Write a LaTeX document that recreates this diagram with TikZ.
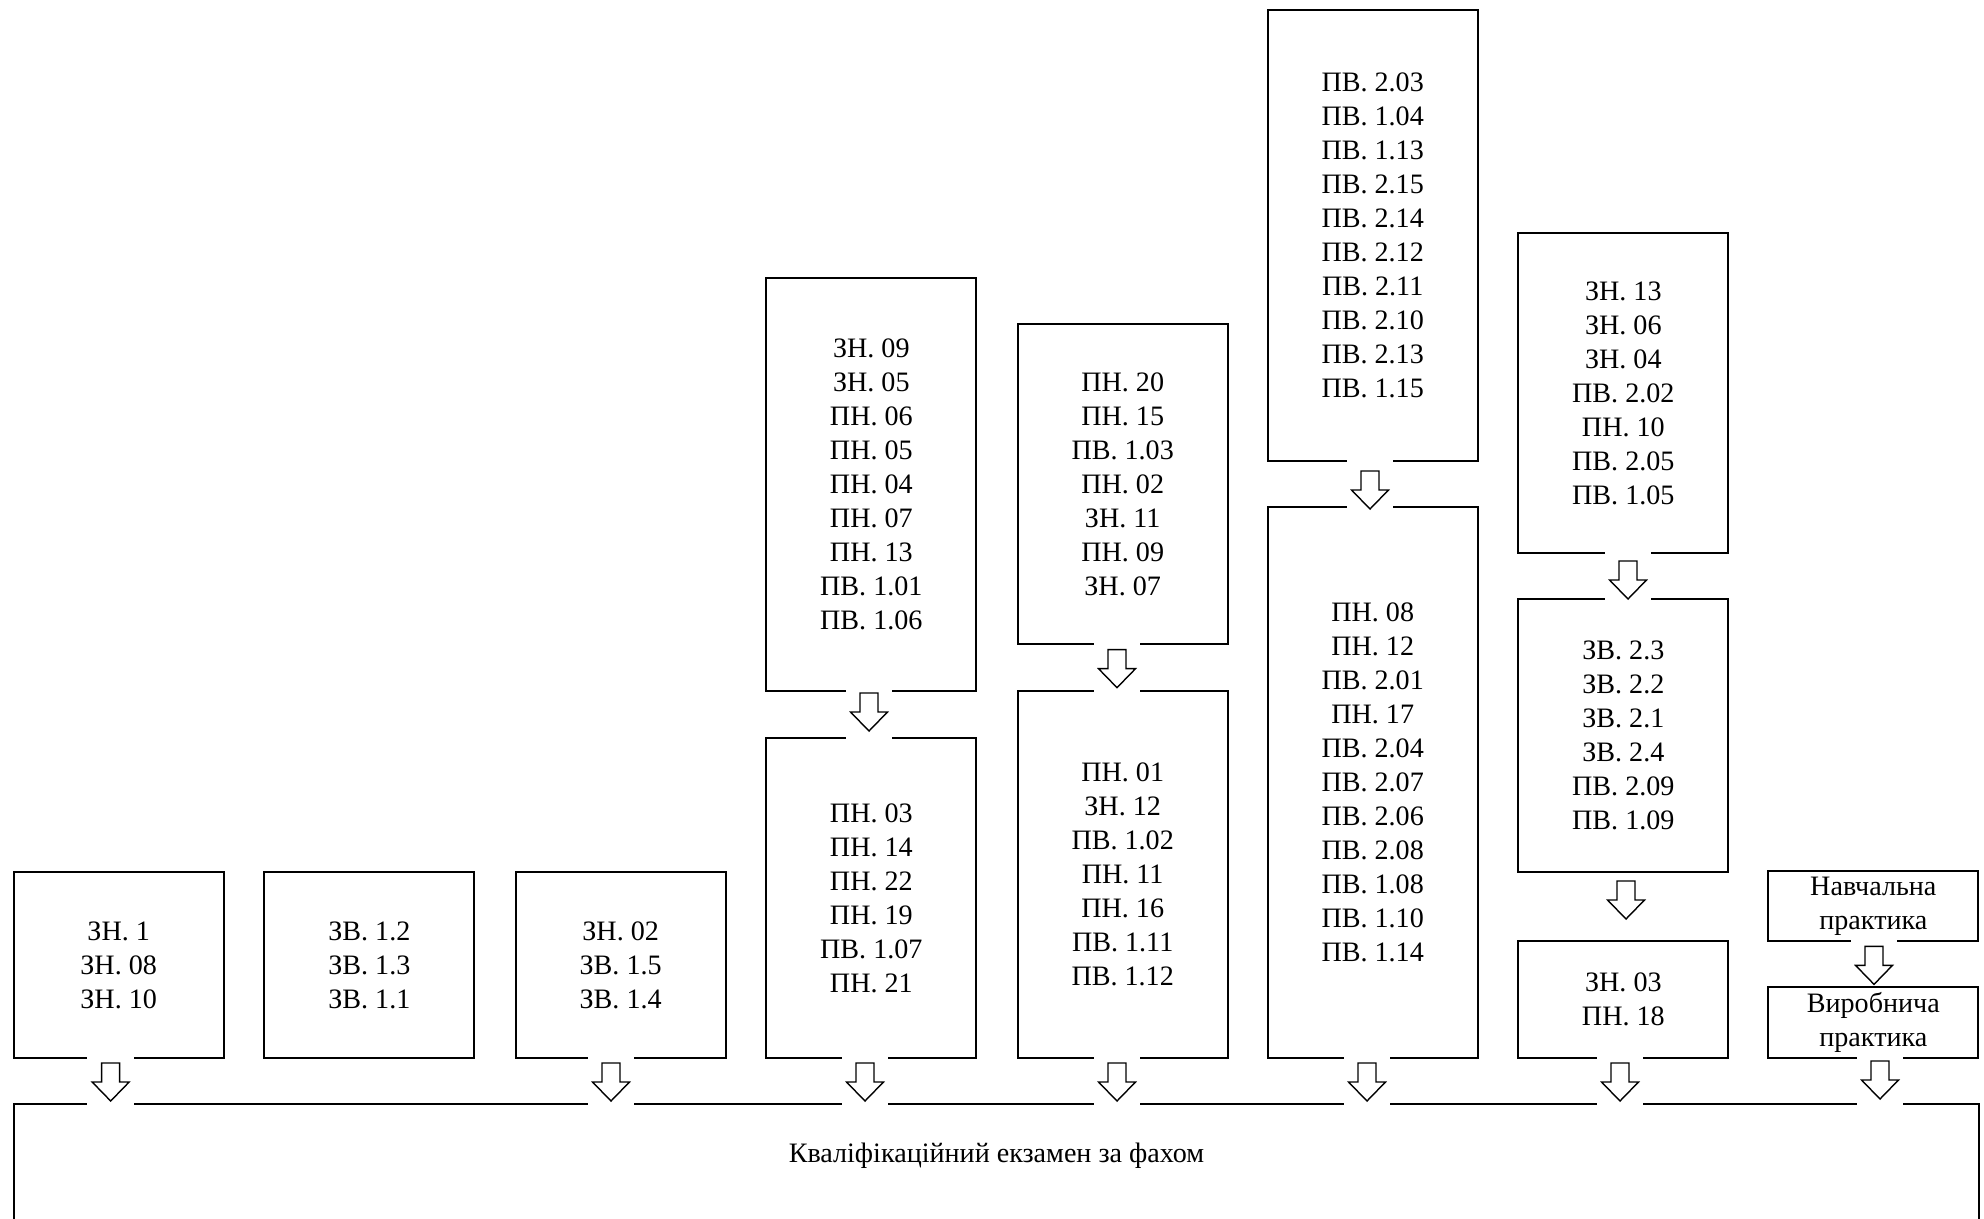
\documentclass[tikz,border=0pt]{standalone}
\usepackage{fontspec}
\setmainfont{Liberation Serif}
\pgfdeclarelayer{front}
\pgfsetlayers{main,front}

\begin{document}
\begin{tikzpicture}[
    box/.style={rectangle, draw, thick, minimum width=3.15cm, text centered, align=center, font=\fontsize{12}{14.5}\selectfont},
    gap/.style={rectangle, fill=white, inner sep=0pt, minimum width=0.7cm, minimum height=0.12cm},
    flow/.style={rectangle, inner sep=0pt, minimum width=0.6cm, minimum height=0.62cm,
        path picture={\draw[semithick, fill=white] (path picture bounding box.center)
            ++(-0.135,0.285) -- ++(0,-0.285) -- ++(-0.1425,0) -- ++(0.2775,-0.285)
            -- ++(0.2775,0.285) -- ++(-0.1425,0) -- ++(0,0.285) -- cycle;}}
]
    \clip[use as bounding box] (0,0) rectangle (29.76,-18.27);

    % short columns
    \node[box, minimum height=2.79cm] (c1) at (1.78,-14.48) {ЗН. 1\\ЗН. 08\\ЗН. 10};
    \node[box, minimum height=2.79cm] (c2) at (5.54,-14.48) {ЗВ. 1.2\\ЗВ. 1.3\\ЗВ. 1.1};
    \node[box, minimum height=2.79cm] (c3) at (9.31,-14.48) {ЗН. 02\\ЗВ. 1.5\\ЗВ. 1.4};

    % two-box columns
    \node[box, minimum height=6.195cm] (c4a) at (13.07,-7.27) {ЗН. 09\\ЗН. 05\\ПН. 06\\ПН. 05\\ПН. 04\\ПН. 07\\ПН. 13\\ПВ. 1.01\\ПВ. 1.06};
    \node[box, minimum height=4.8cm] (c4b) at (13.07,-13.47) {ПН. 03\\ПН. 14\\ПН. 22\\ПН. 19\\ПВ. 1.07\\ПН. 21};
    \node[box, minimum height=4.8cm] (c5a) at (16.84,-7.26) {ПН. 20\\ПН. 15\\ПВ. 1.03\\ПН. 02\\ЗН. 11\\ПН. 09\\ЗН. 07};
    \node[box, minimum height=5.505cm] (c5b) at (16.84,-13.12) {ПН. 01\\ЗН. 12\\ПВ. 1.02\\ПН. 11\\ПН. 16\\ПВ. 1.11\\ПВ. 1.12};
    \node[box, minimum height=6.765cm] (c6a) at (20.59,-3.53) {ПВ. 2.03\\ПВ. 1.04\\ПВ. 1.13\\ПВ. 2.15\\ПВ. 2.14\\ПВ. 2.12\\ПВ. 2.11\\ПВ. 2.10\\ПВ. 2.13\\ПВ. 1.15};
    \node[box, minimum height=8.265cm] (c6b) at (20.59,-11.74) {ПН. 08\\ПН. 12\\ПВ. 2.01\\ПН. 17\\ПВ. 2.04\\ПВ. 2.07\\ПВ. 2.06\\ПВ. 2.08\\ПВ. 1.08\\ПВ. 1.10\\ПВ. 1.14};

    % three-box column
    \node[box, minimum height=4.8cm] (c7a) at (24.35,-5.9) {ЗН. 13\\ЗН. 06\\ЗН. 04\\ПВ. 2.02\\ПН. 10\\ПВ. 2.05\\ПВ. 1.05};
    \node[box, minimum height=4.095cm] (c7b) at (24.35,-11.03) {ЗВ. 2.3\\ЗВ. 2.2\\ЗВ. 2.1\\ЗВ. 2.4\\ПВ. 2.09\\ПВ. 1.09};
    \node[box, minimum height=1.755cm] (c7c) at (24.35,-14.99) {ЗН. 03\\ПН. 18};

    % practice
    \node[box, minimum height=1.05cm, inner sep=0pt] (c8a) at (28.1,-13.59) {Навчальна\\практика};
    \node[box, minimum height=1.065cm, inner sep=0pt] (c8b) at (28.1,-15.34) {Виробнича\\практика};

    \node[box, anchor=north west, minimum width=29.475cm, text height=0.76cm, text depth=3cm] (exam) at (0.195,-16.545) {Кваліфікаційний екзамен за фахом};

    \begin{pgfonlayer}{front}
    \node[flow] (a1) at (1.66,-16.23) {};
    \node[flow] (a3) at (9.165,-16.23) {};
    \node[flow] (a4a) at (13.035,-10.68) {};
    \node[flow] (a4b) at (12.975,-16.23) {};
    \node[flow] (a5a) at (16.755,-10.03) {};
    \node[flow] (a5b) at (16.755,-16.23) {};
    \node[flow] (a6a) at (20.55,-7.35) {};
    \node[flow] (a6b) at (20.505,-16.23) {};
    \node[flow] (a7a) at (24.42,-8.7) {};
    \node[flow] (a7b) at (24.39,-13.5) {};
    \node[flow] (a7c) at (24.3,-16.23) {};
    \node[flow] (a8a) at (28.11,-14.48) {};
    \node[flow] (a8b) at (28.2,-16.2) {};
    \end{pgfonlayer}

    % breaks in the frames where the arrows pass
    \foreach \a/\b in {a1/c1, a3/c3, a4a/c4a, a4b/c4b, a5a/c5a, a5b/c5b, a6a/c6a, a6b/c6b, a7a/c7a, a7c/c7c, a8a/c8a, a8b/c8b}
        \node[gap] (gs-\a) at (\a |- \b.south) {};
    \foreach \a/\b in {a1/exam, a3/exam, a4a/c4b, a4b/exam, a5a/c5b, a5b/exam, a6a/c6b, a6b/exam, a7a/c7b, a7c/exam, a8b/exam}
        \node[gap] (gn-\a) at (\a |- \b.north) {};
\end{tikzpicture}
\end{document}
